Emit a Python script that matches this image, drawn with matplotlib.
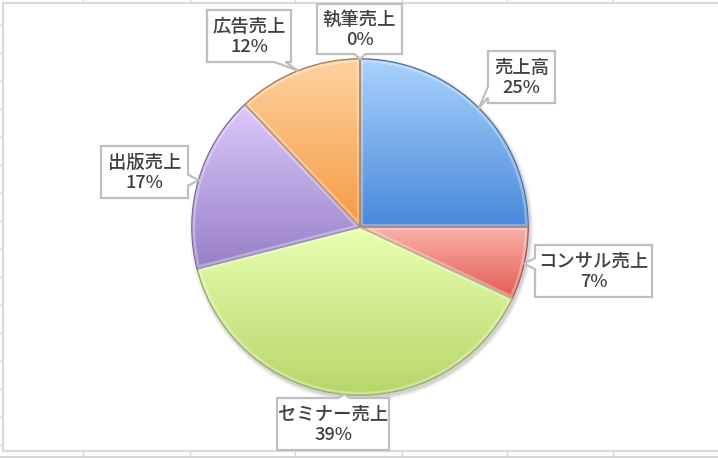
import numpy as np
import matplotlib
matplotlib.use("Agg")
import matplotlib.pyplot as plt
from matplotlib.patches import Polygon, Rectangle, Circle, PathPatch
from matplotlib.colors import to_rgb

plt.rcParams['font.family'] = ['Noto Sans CJK JP', 'DejaVu Sans']

# ---- data ----
categories = ['売上高', 'コンサル売上', 'セミナー売上', '出版売上', '広告売上', '執筆売上']
values = [25, 7, 39, 17, 12, 0]
top_colors = ['#aad2fc', '#fbb2aa', '#e8ffb0', '#dcc8fa', '#fed2a0', '#fed2a0']
bottom_colors = ['#4889da', '#e35a53', '#b7d569', '#987fc8', '#f69a45', '#f69a45']
edge_colors = ['#34669f', '#a4403c', '#8ea64e', '#6e5c98', '#a86a2e', '#7a5020']

# label boxes in image pixel coords (x0, y0, x1, y1), y downward
label_boxes = [(488, 51, 555, 103), (535, 245, 652, 297), (277, 398, 389, 450),
               (101, 146, 188, 198), (207, 10, 291, 62), (317, 4, 402, 54)]

W, H = 718, 458
fig = plt.figure(figsize=(W / 100, H / 100), dpi=100)
ax = fig.add_axes([0, 0, 1, 1])

def Y(y):
    return H - y

cx, cy, R = 360, Y(227), 168

# soft shadow
for off, a in [(7, 0.03), (5, 0.04), (3.5, 0.05), (2, 0.06)]:
    ax.add_patch(Circle((cx + 1.5, cy - 2.5), R + off * 0.6, color='#000000', alpha=a, lw=0, zorder=1))

wedges, _ = ax.pie(values, startangle=90, counterclock=False, center=(cx, cy), radius=R,
                   wedgeprops=dict(linewidth=0), frame=True)

for i, w in enumerate(wedges):
    verts = w.get_path().vertices
    ymin, ymax = verts[:, 1].min(), verts[:, 1].max()
    xmin, xmax = verts[:, 0].min(), verts[:, 0].max()
    if ymax - ymin < 1:
        ymax = ymin + 1
    if xmax - xmin < 1:
        xmax = xmin + 1
    t = np.linspace(0, 1, 200)[:, None]
    c0, c1 = np.array(to_rgb(top_colors[i])), np.array(to_rgb(bottom_colors[i]))
    grad = (c0 * (1 - t) + c1 * t)[:, None, :]
    im = ax.imshow(grad, extent=[xmin, xmax, ymin, ymax], origin='upper', aspect='auto',
                   zorder=2, interpolation='bilinear')
    im.set_clip_path(w)
    w.set_facecolor('none')
    w.set_zorder(3)
    # bevel highlight (inner light stroke)
    hl = PathPatch(w.get_path(), facecolor='none', edgecolor='white', lw=4.5, alpha=0.32, zorder=3)
    ax.add_patch(hl)
    hl.set_clip_path(w)
    w.set_edgecolor(edge_colors[i])
    w.set_linewidth(1.1)

# callouts
def callout(box, tip, wbase=11):
    x0, y0i, x1, y1i = box
    yb, yt = Y(y1i), Y(y0i)
    tx, ty = tip
    dx = tx - np.clip(tx, x0, x1)
    dy = ty - np.clip(ty, yb, yt)
    if abs(dx) > abs(dy):
        c = np.clip(ty, yb + wbase, yt - wbase)
        b1, b2 = c - wbase / 2, c + wbase / 2
        if dx < 0:
            pts = [(x0, yb), (x1, yb), (x1, yt), (x0, yt), (x0, b2), (tx, ty), (x0, b1)]
        else:
            pts = [(x0, yb), (x1, yb), (x1, b1), (tx, ty), (x1, b2), (x1, yt), (x0, yt)]
    else:
        c = np.clip(tx, x0 + wbase, x1 - wbase)
        b1, b2 = c - wbase / 2, c + wbase / 2
        if dy < 0:
            pts = [(x0, yb), (b1, yb), (tx, ty), (b2, yb), (x1, yb), (x1, yt), (x0, yt)]
        else:
            pts = [(x0, yb), (x1, yb), (x1, yt), (b2, yt), (tx, ty), (b1, yt), (x0, yt)]
    ax.add_patch(Polygon(pts, closed=True, facecolor='white', edgecolor='#bfbfbf',
                         lw=1.6, zorder=6, joinstyle='miter'))

for i, w in enumerate(wedges):
    mid = np.deg2rad((w.theta1 + w.theta2) / 2)
    tip = (cx + R * np.cos(mid), cy + R * np.sin(mid))
    box = label_boxes[i]
    callout(box, tip)
    bx = (box[0] + box[2]) / 2
    by = Y((box[1] + box[3]) / 2 + 1)
    ax.text(bx, by, f"{categories[i]}\n{values[i]}%", ha='center', va='center',
            fontsize=13.2, fontweight='medium', color='#404040', linespacing=1.2, zorder=7)

# spreadsheet grid & chart border
g = '#d6d6d6'
for gx in [83, 190, 295, 402, 507, 613]:
    ax.plot([gx, gx], [Y(0), Y(3)], color=g, lw=1, zorder=0)
    ax.plot([gx, gx], [Y(451), Y(457)], color=g, lw=1, zorder=0)
for gy in range(25, 450, 28):
    ax.plot([0, 3], [Y(gy), Y(gy)], color=g, lw=1, zorder=0)
ax.plot([0, W], [Y(456.5), Y(456.5)], color=g, lw=1.5, zorder=0)
ax.add_patch(Rectangle((3, Y(451)), W + 10, 448, facecolor='white', edgecolor='#d9d9d9',
                       lw=1.5, zorder=0.5))

ax.set_xlim(0, W)
ax.set_ylim(0, H)
ax.set_aspect('auto')
ax.set_axis_off()
fig.savefig('out.png', dpi=100)
